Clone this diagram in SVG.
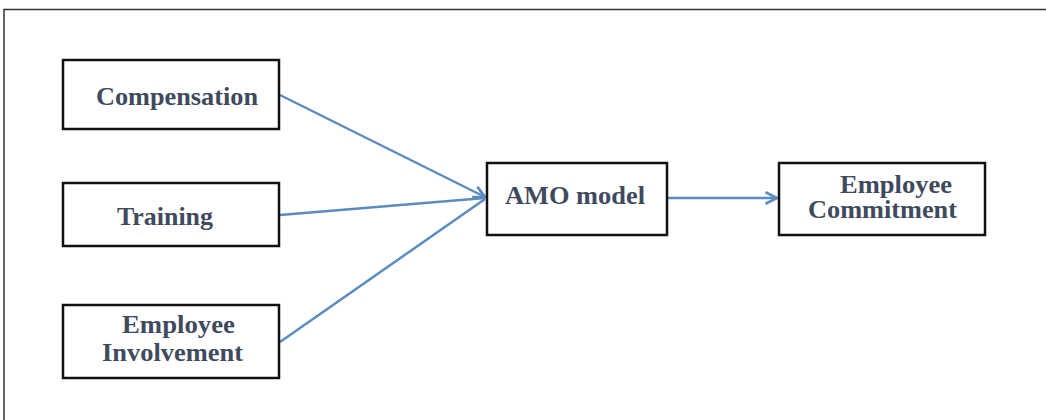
<svg xmlns="http://www.w3.org/2000/svg" width="1046" height="420" viewBox="0 0 1046 420">
  <style>
    .box { fill: #ffffff; stroke: #111111; stroke-width: 2.5; }
    .lbl { font-family: "Liberation Serif", "Times New Roman", serif; font-weight: bold; font-size: 25px; fill: #3f4a5e; }
    .conn { stroke: #5b8cc0; stroke-width: 2.5; fill: none; }
  </style>
  <defs>
    <marker id="arrow" viewBox="0 0 12 12" refX="11" refY="6" markerWidth="5.5" markerHeight="5.5" markerUnits="strokeWidth" orient="auto">
      <path d="M1,1 L11,6 L1,11" fill="none" stroke="#5b8cc0" stroke-width="2.4"/>
    </marker>
  </defs>
  <rect x="0" y="0" width="1046" height="420" fill="#ffffff"/>
  <rect x="4" y="9.5" width="1060" height="430" fill="none" stroke="#333333" stroke-width="1.5"/>

  <g id="connectors">
    <line class="conn" x1="280" y1="95" x2="485" y2="197" marker-end="url(#arrow)"/>
    <line class="conn" x1="280" y1="215" x2="485" y2="198"/>
    <line class="conn" x1="280" y1="342" x2="485" y2="199"/>
    <line class="conn" x1="668" y1="198" x2="777" y2="198" marker-end="url(#arrow)"/>
  </g>

  <g id="compensation">
    <rect class="box" x="63" y="60" width="216" height="69"/>
    <text class="lbl" x="96" y="105" textLength="162" lengthAdjust="spacingAndGlyphs">Compensation</text>
  </g>
  <g id="training">
    <rect class="box" x="63" y="183" width="216" height="63"/>
    <text class="lbl" x="117" y="225" textLength="96" lengthAdjust="spacingAndGlyphs">Training</text>
  </g>
  <g id="involvement">
    <rect class="box" x="63" y="305" width="216" height="73"/>
    <text class="lbl" x="122" y="333" textLength="113" lengthAdjust="spacingAndGlyphs">Employee</text>
    <text class="lbl" x="102" y="361" textLength="141" lengthAdjust="spacingAndGlyphs">Involvement</text>
  </g>
  <g id="amo">
    <rect class="box" x="487" y="163" width="180" height="72"/>
    <text class="lbl" x="505" y="204" textLength="140" lengthAdjust="spacingAndGlyphs">AMO model</text>
  </g>
  <g id="commitment">
    <rect class="box" x="779" y="163" width="206" height="72"/>
    <text class="lbl" x="840" y="193" textLength="112" lengthAdjust="spacingAndGlyphs">Employee</text>
    <text class="lbl" x="808" y="218" textLength="149" lengthAdjust="spacingAndGlyphs">Commitment</text>
  </g>
</svg>
